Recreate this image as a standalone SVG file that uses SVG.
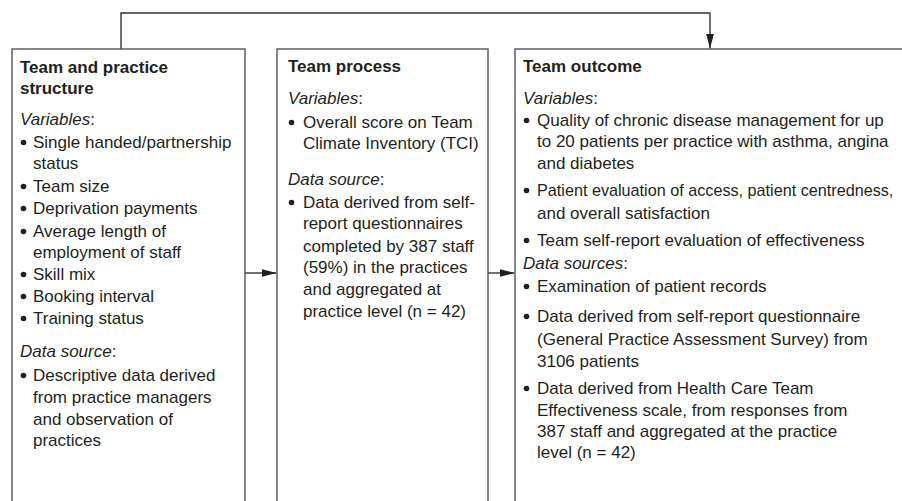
<svg xmlns="http://www.w3.org/2000/svg" width="902" height="501" viewBox="0 0 902 501">
<style>
  text { font-family: "Liberation Sans", Arial, sans-serif; font-size: 17px; fill: #231f20; }
  .title { font-weight: bold; }
  .it { font-style: italic; }
  .box { fill: #ffffff; stroke: #555555; stroke-width: 1.4; }
  .conn { fill: none; stroke: #333333; stroke-width: 1.4; }
  .dot { fill: #231f20; }
</style>
<defs>
  <marker id="arrow" markerUnits="userSpaceOnUse" markerWidth="15" markerHeight="10" refX="15" refY="5" orient="auto">
    <path d="M0,1 L15,5 L0,9 z" fill="#231f20"/>
  </marker>
</defs>
<rect width="902" height="501" fill="#ffffff"/>

<g id="connectors">
  <path class="conn" d="M121,49 V13 H710 V48.5" marker-end="url(#arrow)"/>
  <path class="conn" d="M245,273 H276.5" marker-end="url(#arrow)"/>
  <path class="conn" d="M488,273 H514.5" marker-end="url(#arrow)"/>
</g>

<g id="structure">
  <rect class="box" x="12" y="49" width="233" height="480"/>
  <text class="title" x="20" y="73">Team and practice</text>
  <text class="title" x="20" y="94">structure</text>
  <text x="20" y="125"><tspan class="it">Variables</tspan>:</text>
  <circle class="dot" cx="23.5" cy="142.5" r="2.8"/>
  <text x="33" y="148">Single handed/partnership</text>
  <text x="33" y="169">status</text>
  <circle class="dot" cx="23.5" cy="186.5" r="2.8"/>
  <text x="33" y="192">Team size</text>
  <circle class="dot" cx="23.5" cy="208.5" r="2.8"/>
  <text x="33" y="214">Deprivation payments</text>
  <circle class="dot" cx="23.5" cy="231.5" r="2.8"/>
  <text x="33" y="237">Average length of</text>
  <text x="33" y="258">employment of staff</text>
  <circle class="dot" cx="23.5" cy="274.5" r="2.8"/>
  <text x="33" y="280">Skill mix</text>
  <circle class="dot" cx="23.5" cy="296.5" r="2.8"/>
  <text x="33" y="302">Booking interval</text>
  <circle class="dot" cx="23.5" cy="318.5" r="2.8"/>
  <text x="33" y="324">Training status</text>
  <text x="20" y="357"><tspan class="it">Data source</tspan>:</text>
  <circle class="dot" cx="23.5" cy="375.5" r="2.8"/>
  <text x="33" y="381">Descriptive data derived</text>
  <text x="33" y="403">from practice managers</text>
  <text x="33" y="425">and observation of</text>
  <text x="33" y="446">practices</text>
</g>

<g id="process">
  <rect class="box" x="277" y="49" width="211" height="480"/>
  <text class="title" x="288" y="72">Team process</text>
  <text x="288" y="104"><tspan class="it">Variables</tspan>:</text>
  <circle class="dot" cx="291.5" cy="122.5" r="2.8"/>
  <text x="303" y="128">Overall score on Team</text>
  <text x="303" y="149">Climate Inventory (TCI)</text>
  <text x="288" y="185"><tspan class="it">Data source</tspan>:</text>
  <circle class="dot" cx="291.5" cy="202.5" r="2.8"/>
  <text x="303" y="208">Data derived from self-</text>
  <text x="303" y="229">report questionnaires</text>
  <text x="303" y="252">completed by 387 staff</text>
  <text x="303" y="273">(59%) in the practices</text>
  <text x="303" y="295">and aggregated at</text>
  <text x="303" y="317">practice level (n = 42)</text>
</g>

<g id="outcome">
  <rect class="box" x="515" y="49" width="420" height="480"/>
  <text class="title" x="523" y="72">Team outcome</text>
  <text x="523" y="104"><tspan class="it">Variables</tspan>:</text>
  <circle class="dot" cx="526.5" cy="120.5" r="2.8"/>
  <text x="537" y="126">Quality of chronic disease management for up</text>
  <text x="537" y="147">to 20 patients per practice with asthma, angina</text>
  <text x="537" y="169">and diabetes</text>
  <circle class="dot" cx="526.5" cy="190.5" r="2.8"/>
  <text x="537" y="196" style="font-size:16.2px">Patient evaluation of access, patient centredness,</text>
  <text x="537" y="219">and overall satisfaction</text>
  <circle class="dot" cx="526.5" cy="240.5" r="2.8"/>
  <text x="537" y="246">Team self-report evaluation of effectiveness</text>
  <text x="523" y="269"><tspan class="it">Data sources</tspan>:</text>
  <circle class="dot" cx="526.5" cy="286.5" r="2.8"/>
  <text x="537" y="292">Examination of patient records</text>
  <circle class="dot" cx="526.5" cy="316.5" r="2.8"/>
  <text x="537" y="322">Data derived from self-report questionnaire</text>
  <text x="537" y="345">(General Practice Assessment Survey) from</text>
  <text x="537" y="367">3106 patients</text>
  <circle class="dot" cx="526.5" cy="388.5" r="2.8"/>
  <text x="537" y="394">Data derived from Health Care Team</text>
  <text x="537" y="416">Effectiveness scale, from responses from</text>
  <text x="537" y="437">387 staff and aggregated at the practice</text>
  <text x="537" y="458">level (n = 42)</text>
</g>
</svg>
